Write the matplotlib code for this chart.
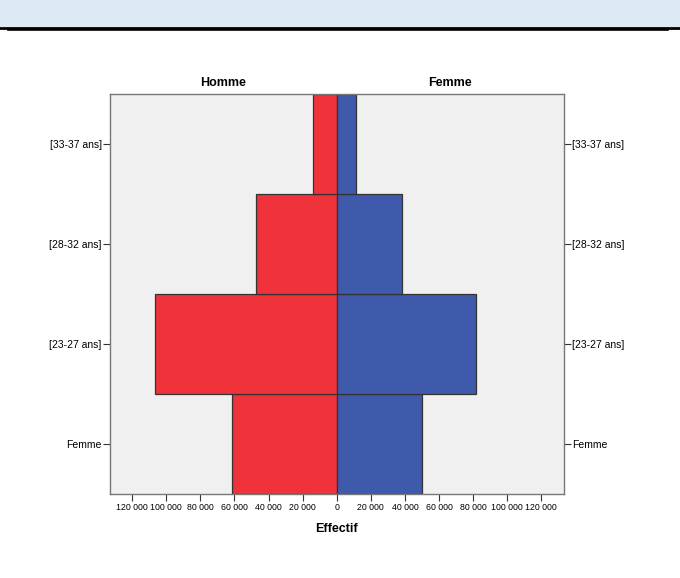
import numpy as np
import matplotlib.pyplot as plt
from matplotlib.patches import Rectangle
from matplotlib.lines import Line2D

# data read from the pyramid
categories = ['Femme', '[23-27 ans]', '[28-32 ans]', '[33-37 ans]']
homme = [61400, 106600, 47500, 13900]
femme = [50250, 81500, 38300, 11300]
xticks = [-120000, -100000, -80000, -60000, -40000, -20000, 0,
          20000, 40000, 60000, 80000, 100000, 120000]

plt.rcParams['font.family'] = ['Liberation Sans', 'DejaVu Sans']

fig = plt.figure(figsize=(6.8, 5.78), dpi=100)

# header band of the page
fig.patches.append(Rectangle((0, 1 - 27/578), 1, 27/578, transform=fig.transFigure,
                             facecolor='#dde9f5', edgecolor='none'))
fig.lines.append(Line2D([0, 1], [1 - 28/578, 1 - 28/578], transform=fig.transFigure,
                        color='black', linewidth=2))
fig.lines.append(Line2D([8/680, 668/680], [1 - 29.5/578, 1 - 29.5/578],
                        transform=fig.transFigure, color='black', linewidth=1.2))

ax = fig.add_axes([109.5/680, 1 - 494/578, 454.5/680, 400/578])
ax.set_facecolor('#f0f0f0')

y = np.arange(len(categories))
ax.barh(y, [-v for v in homme], height=1.0, color='#f0323a',
        edgecolor='#333333', linewidth=0.9)
ax.barh(y, femme, height=1.0, color='#3f59ab',
        edgecolor='#333333', linewidth=0.9)

ax.set_xlim(-133300, 133300)
ax.set_ylim(-0.5, 3.5)

ax.set_xticks(xticks)
ax.set_xticklabels(['{:,}'.format(abs(t)).replace(',', ' ') for t in xticks], fontsize=6.3)
ax.set_yticks(y)
ax.set_yticklabels(categories, fontsize=7.5)
ax.tick_params(axis='y', left=True, right=True, labelleft=True, labelright=True,
               length=5, width=0.8, color='#333333', pad=0.5)
ax.tick_params(axis='x', length=5, width=0.8, color='#333333', pad=1.5)

for s in ax.spines.values():
    s.set_color('#777777')
    s.set_linewidth(1.0)

ax.text(0.25, 1.012, 'Homme', transform=ax.transAxes, ha='center', va='bottom',
        fontsize=9, fontweight='bold')
ax.text(0.75, 1.012, 'Femme', transform=ax.transAxes, ha='center', va='bottom',
        fontsize=9, fontweight='bold')
ax.set_xlabel('Effectif', fontsize=9, fontweight='bold', labelpad=8)

fig.savefig('out.png', dpi=100)
